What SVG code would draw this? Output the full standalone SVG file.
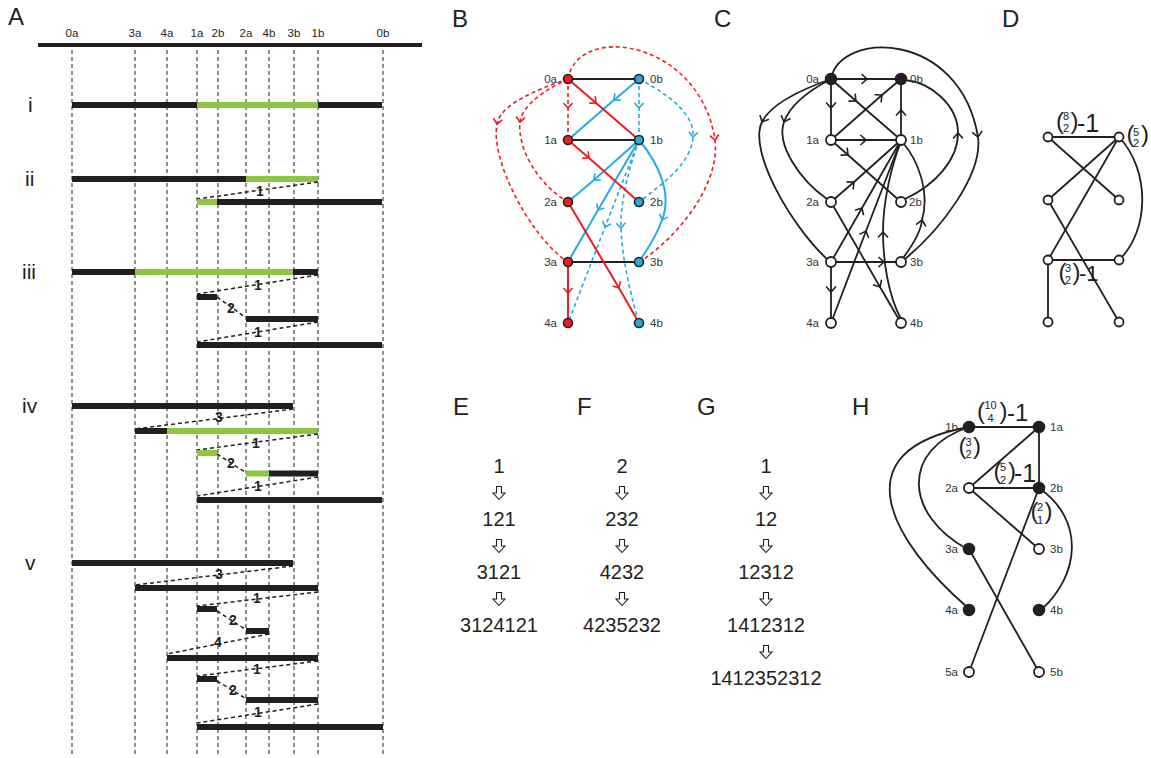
<svg xmlns="http://www.w3.org/2000/svg" width="1151" height="758" viewBox="0 0 1151 758">
<style>
text{font-family:"Liberation Sans",Arial,sans-serif;fill:#231f20}
.pl{font-size:24px}
.ax{font-size:11.5px;text-anchor:middle}
.rn{font-size:21px}
.vd{stroke:#231f20;stroke-width:1;stroke-dasharray:4 3;fill:none}
.bk{stroke:#231f20;stroke-width:6;fill:none}
.gr{stroke:#8dc63f;stroke-width:6;fill:none}
.cn{stroke:#231f20;stroke-width:1.5;stroke-dasharray:4 3;fill:none}
.num{font-size:14px;font-weight:bold;text-anchor:middle}
.nl{font-size:11.5px;fill:#333}
.nle{font-size:11.5px;fill:#333;text-anchor:end}
.bkl{stroke:#231f20;stroke-width:2;fill:none}
.rs{stroke:#ed1c24;stroke-width:2;fill:none;marker-mid:url(#mr)}
.rd{stroke:#ed1c24;stroke-width:1.6;stroke-dasharray:4 3;fill:none;marker-mid:url(#mr)}
.bs{stroke:#27aae1;stroke-width:2;fill:none;marker-mid:url(#mb)}
.bd{stroke:#27aae1;stroke-width:1.6;stroke-dasharray:4 3;fill:none;marker-mid:url(#mb)}
.ce{stroke:#231f20;stroke-width:1.8;fill:none;marker-mid:url(#mk)}
.pe{stroke:#231f20;stroke-width:1.8;fill:none}
.nr{fill:#ed1c24;stroke:#231f20;stroke-width:1.6}
.nb{fill:#27aae1;stroke:#231f20;stroke-width:1.6}
.nw{fill:#fff;stroke:#231f20;stroke-width:1.8}
.nf{fill:#231f20;stroke:#231f20;stroke-width:1.5}
.seq{font-size:20px;text-anchor:middle}
.par{font-size:24px}
.bn{font-size:11px;text-anchor:middle}
.m1{font-size:25px}
</style>
<defs>
<marker id="mr" viewBox="-7 -7 14 14" markerWidth="14" markerHeight="14" markerUnits="userSpaceOnUse" orient="auto"><path d="M-5,-4.5 L0,0 L-5,4.5" fill="none" stroke="#ed1c24" stroke-width="1.6"/></marker>
<marker id="mb" viewBox="-7 -7 14 14" markerWidth="14" markerHeight="14" markerUnits="userSpaceOnUse" orient="auto"><path d="M-5,-4.5 L0,0 L-5,4.5" fill="none" stroke="#27aae1" stroke-width="1.6"/></marker>
<marker id="mk" viewBox="-7 -7 14 14" markerWidth="14" markerHeight="14" markerUnits="userSpaceOnUse" orient="auto"><path d="M-5.5,-5 L0,0 L-5.5,5" fill="none" stroke="#231f20" stroke-width="1.6"/></marker>
<path id="da" d="M-2.5,-6.5 H2.5 V0 H6 L0,6.5 L-6,0 H-2.5 Z" fill="#fff" stroke="#231f20" stroke-width="1.1"/>
</defs>
<rect width="1151" height="758" fill="#fff"/>

<!-- Panel A -->
<g id="panelA">
<text class="pl" x="8" y="25">A</text>
<line x1="38" y1="45" x2="422" y2="45" stroke="#231f20" stroke-width="4"/>
<g>
<text class="ax" x="72" y="37">0a</text>
<text class="ax" x="135" y="37">3a</text>
<text class="ax" x="167" y="37">4a</text>
<text class="ax" x="197" y="37">1a</text>
<text class="ax" x="218" y="37">2b</text>
<text class="ax" x="246" y="37">2a</text>
<text class="ax" x="269" y="37">4b</text>
<text class="ax" x="294" y="37">3b</text>
<text class="ax" x="318" y="37">1b</text>
<text class="ax" x="383" y="37">0b</text>
</g>
<g class="vd">
<line x1="72" y1="50" x2="72" y2="755"/>
<line x1="135" y1="50" x2="135" y2="755"/>
<line x1="167" y1="50" x2="167" y2="755"/>
<line x1="197" y1="50" x2="197" y2="755"/>
<line x1="218" y1="50" x2="218" y2="755"/>
<line x1="246" y1="50" x2="246" y2="755"/>
<line x1="269" y1="50" x2="269" y2="755"/>
<line x1="294" y1="50" x2="294" y2="755"/>
<line x1="318" y1="50" x2="318" y2="755"/>
<line x1="383" y1="50" x2="383" y2="755"/>
</g>
<text class="rn" x="28" y="112">i</text>
<text class="rn" x="25" y="186">ii</text>
<text class="rn" x="22" y="279">iii</text>
<text class="rn" x="22" y="413">iv</text>
<text class="rn" x="25" y="570">v</text>
<!-- row i -->
<line class="bk" x1="72" y1="105" x2="197" y2="105"/>
<line class="gr" x1="197" y1="105" x2="318" y2="105"/>
<line class="bk" x1="318" y1="105" x2="382" y2="105"/>
<!-- row ii -->
<line class="bk" x1="72" y1="179" x2="246" y2="179"/>
<line class="gr" x1="246" y1="179" x2="318" y2="179"/>
<line class="cn" x1="318" y1="182" x2="197" y2="199"/>
<text class="num" x="260" y="196">1</text>
<line class="gr" x1="197" y1="202" x2="217" y2="202"/>
<line class="bk" x1="217" y1="202" x2="382" y2="202"/>
<!-- row iii -->
<line class="bk" x1="72" y1="272" x2="135" y2="272"/>
<line class="gr" x1="135" y1="272" x2="293" y2="272"/>
<line class="bk" x1="293" y1="272" x2="318" y2="272"/>
<line class="cn" x1="318" y1="275" x2="197" y2="294"/>
<text class="num" x="258" y="290">1</text>
<line class="bk" x1="197" y1="297" x2="217" y2="297"/>
<line class="cn" x1="217" y1="297" x2="245" y2="317"/>
<text class="num" x="231" y="313">2</text>
<line class="bk" x1="246" y1="319" x2="318" y2="319"/>
<line class="cn" x1="318" y1="322" x2="197" y2="342"/>
<text class="num" x="258" y="337">1</text>
<line class="bk" x1="197" y1="345" x2="382" y2="345"/>
<!-- row iv -->
<line class="bk" x1="72" y1="406" x2="293" y2="406"/>
<line class="cn" x1="293" y1="409" x2="135" y2="429"/>
<text class="num" x="219" y="422">3</text>
<line class="bk" x1="135" y1="431" x2="167" y2="431"/>
<line class="gr" x1="167" y1="431" x2="318" y2="431"/>
<line class="cn" x1="318" y1="434" x2="197" y2="450"/>
<text class="num" x="256" y="448">1</text>
<line class="gr" x1="197" y1="453" x2="217" y2="453"/>
<line class="cn" x1="217" y1="454" x2="245" y2="472"/>
<text class="num" x="231" y="468">2</text>
<line class="gr" x1="246" y1="473.5" x2="269" y2="473.5"/>
<line class="bk" x1="269" y1="473.5" x2="318" y2="473.5"/>
<line class="cn" x1="318" y1="477" x2="197" y2="496"/>
<text class="num" x="258" y="491">1</text>
<line class="bk" x1="197" y1="500" x2="382" y2="500"/>
<!-- row v -->
<line class="bk" x1="72" y1="563" x2="293" y2="563"/>
<line class="cn" x1="293" y1="566" x2="135" y2="585"/>
<text class="num" x="219" y="579">3</text>
<line class="bk" x1="135" y1="588" x2="318" y2="588"/>
<line class="cn" x1="318" y1="592" x2="197" y2="606"/>
<text class="num" x="257" y="603">1</text>
<line class="bk" x1="197" y1="609" x2="217" y2="609"/>
<line class="cn" x1="217" y1="611" x2="245" y2="629"/>
<text class="num" x="233" y="625">2</text>
<line class="bk" x1="246" y1="631" x2="269" y2="631"/>
<line class="cn" x1="269" y1="634" x2="167" y2="654"/>
<text class="num" x="218" y="647">4</text>
<line class="bk" x1="167" y1="658" x2="318" y2="658"/>
<line class="cn" x1="318" y1="661" x2="197" y2="676"/>
<text class="num" x="257" y="674">1</text>
<line class="bk" x1="197" y1="679" x2="217" y2="679"/>
<line class="cn" x1="217" y1="681" x2="245" y2="698"/>
<text class="num" x="233" y="695">2</text>
<line class="bk" x1="246" y1="700" x2="318" y2="700"/>
<line class="cn" x1="318" y1="704" x2="197" y2="723"/>
<text class="num" x="258" y="717">1</text>
<line class="bk" x1="197" y1="727" x2="383" y2="727"/>
</g>

<!-- Panel B -->
<g id="panelB">
<text class="pl" x="452" y="27">B</text>
<g id="B-connectors">
<path class="bkl" d="M568,79 H639 M568,140 H639 M568,262 H639"/>
<path class="rd" d="M568,79 C578,22 700,40 715,140 C720,180 685,230 644,259"/>
<path class="rd" d="M568,79 C535,90 500,105 497,124 C490,160 530,235 565,260"/>
<path class="rd" d="M568,79 C545,90 522,105 520,122 C517,150 540,185 565,200"/>
<path class="rd" d="M568,79 L568,108 L568,140"/>
<path class="bd" d="M639,79 L639,108 L639,140"/>
<path class="bd" d="M639,79 C670,95 695,115 693,137 C691,165 660,185 643,199"/>
<path class="bd" d="M639,140 L605,227 L568,323"/>
<path class="bd" d="M639,140 C625,180 620,210 621,228 C622,260 632,300 639,323"/>
<path class="bs" d="M639,79 L614,100 L568,140"/>
<path class="bs" d="M639,140 L594,180 L568,202"/>
<path class="bs" d="M639,140 L598,210 L568,262"/>
<path class="bs" d="M639,140 C660,165 672,195 662,220 C655,240 645,252 639,262"/>
<path class="rs" d="M568,79 L596,103 L639,140"/>
<path class="rs" d="M568,140 L589,158 L639,202"/>
<path class="rs" d="M568,202 L619,288 L639,323"/>
<path class="rs" d="M568,262 L568,293 L568,323"/>
</g>
<g id="B-0a"><circle class="nr" cx="568" cy="79" r="4.5"/><text class="nle" x="557" y="83">0a</text></g>
<g id="B-0b"><circle class="nb" cx="639" cy="79" r="4.5"/><text class="nl" x="650" y="83">0b</text></g>
<g id="B-1a"><circle class="nr" cx="568" cy="140" r="4.5"/><text class="nle" x="557" y="144">1a</text></g>
<g id="B-1b"><circle class="nb" cx="639" cy="140" r="4.5"/><text class="nl" x="650" y="144">1b</text></g>
<g id="B-2a"><circle class="nr" cx="568" cy="202" r="4.5"/><text class="nle" x="557" y="206">2a</text></g>
<g id="B-2b"><circle class="nb" cx="639" cy="202" r="4.5"/><text class="nl" x="650" y="206">2b</text></g>
<g id="B-3a"><circle class="nr" cx="568" cy="262" r="4.5"/><text class="nle" x="557" y="266">3a</text></g>
<g id="B-3b"><circle class="nb" cx="639" cy="262" r="4.5"/><text class="nl" x="650" y="266">3b</text></g>
<g id="B-4a"><circle class="nr" cx="568" cy="323" r="4.5"/><text class="nle" x="557" y="327">4a</text></g>
<g id="B-4b"><circle class="nb" cx="639" cy="323" r="4.5"/><text class="nl" x="650" y="327">4b</text></g>
</g>

<!-- Panel C -->
<g id="panelC">
<text class="pl" x="714" y="27">C</text>
<g id="C-connectors">
<path class="ce" d="M831,79 L867,79 L901,79"/>
<path class="ce" d="M831,79 L831,108 L831,140"/>
<path class="ce" d="M831,140 L866,140 L901,140"/>
<path class="ce" d="M901,140 L901,110 L901,79"/>
<path class="ce" d="M831,79 L856,101 L901,140"/>
<path class="ce" d="M831,140 L882,95 L901,79"/>
<path class="ce" d="M831,140 L848,155 L901,202"/>
<path class="ce" d="M831,202 L854,182 L901,140"/>
<path class="ce" d="M831,262 L862,208 L901,140"/>
<path class="ce" d="M831,323 L866,231 L901,140"/>
<path class="ce" d="M901,319 C888,295 883,260 883,232 C883,200 892,165 900,144"/>
<path class="ce" d="M903,258 C912,246 921,232 922,220 C930,192 918,160 903,143"/>
<path class="ce" d="M831,262 L884,262 L901,262"/>
<path class="ce" d="M831,262 L831,292 L831,323"/>
<path class="ce" d="M831,202 L880,287 L901,323"/>
<path class="ce" d="M831,79 C800,90 770,105 762,122 C748,150 790,225 828,260"/>
<path class="ce" d="M831,79 C810,90 790,105 784,122 C776,145 800,180 827,199"/>
<path class="ce" d="M831,79 C840,30 960,30 978,137 C983,175 940,230 905,259"/>
<path class="ce" d="M905,199 C935,185 958,160 958,133 C958,105 930,82 905,80"/>
</g>
<g id="C-0a"><circle class="nf" cx="831" cy="79" r="5.5"/><text class="nle" x="819" y="83">0a</text></g>
<g id="C-0b"><circle class="nf" cx="901" cy="79" r="5.5"/><text class="nl" x="910" y="83">0b</text></g>
<g id="C-1a"><circle class="nw" cx="831" cy="140" r="5"/><text class="nle" x="819" y="144">1a</text></g>
<g id="C-1b"><circle class="nw" cx="901" cy="140" r="5"/><text class="nl" x="910" y="144">1b</text></g>
<g id="C-2a"><circle class="nw" cx="831" cy="202" r="5"/><text class="nle" x="819" y="206">2a</text></g>
<g id="C-2b"><circle class="nw" cx="901" cy="202" r="5"/><text class="nl" x="909" y="206">2b</text></g>
<g id="C-3a"><circle class="nw" cx="831" cy="262" r="5"/><text class="nle" x="819" y="266">3a</text></g>
<g id="C-3b"><circle class="nw" cx="901" cy="262" r="5"/><text class="nl" x="910" y="266">3b</text></g>
<g id="C-4a"><circle class="nw" cx="831" cy="323" r="5"/><text class="nle" x="819" y="327">4a</text></g>
<g id="C-4b"><circle class="nw" cx="901" cy="323" r="5"/><text class="nl" x="910" y="327">4b</text></g>
</g>

<!-- Panel D -->
<g id="panelD">
<text class="pl" x="1002" y="27">D</text>
<g id="D-connectors">
<path class="pe" d="M1048,137 L1119,137"/>
<path class="pe" d="M1048,137 L1119,200"/>
<path class="pe" d="M1119,137 L1048,200"/>
<path class="pe" d="M1119,137 L1048,260"/>
<path class="pe" d="M1119,137 C1150,170 1150,230 1119,260"/>
<path class="pe" d="M1048,200 L1119,322"/>
<path class="pe" d="M1048,260 L1119,260"/>
<path class="pe" d="M1048,260 L1048,322"/>
</g>
<g id="D-n1"><circle class="nw" cx="1048" cy="137" r="4.5"/></g>
<g id="D-n2"><circle class="nw" cx="1119" cy="137" r="4.5"/></g>
<g id="D-n3"><circle class="nw" cx="1048" cy="200" r="4.5"/></g>
<g id="D-n4"><circle class="nw" cx="1119" cy="200" r="4.5"/></g>
<g id="D-n5"><circle class="nw" cx="1048" cy="260" r="4.5"/></g>
<g id="D-n6"><circle class="nw" cx="1119" cy="260" r="4.5"/></g>
<g id="D-n7"><circle class="nw" cx="1048" cy="322" r="4.5"/></g>
<g id="D-n8"><circle class="nw" cx="1119" cy="322" r="4.5"/></g>
<g id="D-lab1">
<text class="par" x="1056" y="129">(</text>
<text class="bn" x="1066" y="120">8</text>
<text class="bn" x="1066" y="132">2</text>
<text class="par" x="1070.5" y="129">)</text>
<text class="m1" x="1077" y="132">-1</text>
</g>
<g id="D-lab2">
<text class="par" x="1126.5" y="142">(</text>
<text class="bn" x="1136" y="136">5</text>
<text class="bn" x="1136" y="147">2</text>
<text class="par" x="1141" y="142">)</text>
</g>
<g id="D-lab3">
<text class="par" x="1058.5" y="280">(</text>
<text class="bn" x="1068" y="272">3</text>
<text class="bn" x="1068" y="284">2</text>
<text class="par" x="1072.5" y="280">)</text>
<text class="m1" x="1079" y="281" style="font-size:22px">-1</text>
</g>
</g>

<!-- Panel E -->
<g id="panelE">
<text class="pl" x="453" y="415">E</text>
<text class="seq" x="499" y="473">1</text>
<use href="#da" x="499" y="493"/>
<text class="seq" x="499" y="526">121</text>
<use href="#da" x="499" y="546"/>
<text class="seq" x="499" y="579">3121</text>
<use href="#da" x="499" y="599"/>
<text class="seq" x="499" y="632">3124121</text>
</g>

<!-- Panel F -->
<g id="panelF">
<text class="pl" x="577" y="415">F</text>
<text class="seq" x="622" y="473">2</text>
<use href="#da" x="622" y="493"/>
<text class="seq" x="622" y="526">232</text>
<use href="#da" x="622" y="546"/>
<text class="seq" x="622" y="579">4232</text>
<use href="#da" x="622" y="599"/>
<text class="seq" x="622" y="632">4235232</text>
</g>

<!-- Panel G -->
<g id="panelG">
<text class="pl" x="697" y="415">G</text>
<text class="seq" x="766" y="473">1</text>
<use href="#da" x="766" y="493"/>
<text class="seq" x="766" y="526">12</text>
<use href="#da" x="766" y="546"/>
<text class="seq" x="766" y="579">12312</text>
<use href="#da" x="766" y="599"/>
<text class="seq" x="766" y="632">1412312</text>
<use href="#da" x="766" y="652"/>
<text class="seq" x="766" y="685">1412352312</text>
</g>

<!-- Panel H -->
<g id="panelH">
<text class="pl" x="852" y="415">H</text>
<g id="H-connectors">
<path class="pe" d="M969,427 H1039"/>
<path class="pe" d="M1039,427 V488"/>
<path class="pe" d="M1039,427 L969,488"/>
<path class="pe" d="M969,488 H1039"/>
<path class="pe" d="M969,488 L1039,549"/>
<path class="pe" d="M1039,488 L969,672"/>
<path class="pe" d="M969,549 L1039,672"/>
<path class="pe" d="M1039,488 C1085,520 1080,575 1041,610"/>
<path class="pe" d="M969,427 C840,450 890,540 967,607"/>
<path class="pe" d="M969,427 C900,450 905,515 967,549"/>
</g>
<g id="H-1b"><circle class="nf" cx="969" cy="427" r="5.5"/><text class="nle" x="958" y="431">1b</text></g>
<g id="H-1a"><circle class="nf" cx="1039" cy="427" r="5.5"/><text class="nl" x="1050" y="431">1a</text></g>
<g id="H-2a"><circle class="nw" cx="969" cy="488" r="5"/><text class="nle" x="958" y="492">2a</text></g>
<g id="H-2b"><circle class="nf" cx="1039" cy="488" r="5.5"/><text class="nl" x="1050" y="492">2b</text></g>
<g id="H-3a"><circle class="nf" cx="969" cy="549" r="5.5"/><text class="nle" x="958" y="553">3a</text></g>
<g id="H-3b"><circle class="nw" cx="1039" cy="549" r="5"/><text class="nl" x="1050" y="553">3b</text></g>
<g id="H-4a"><circle class="nf" cx="969" cy="610" r="5.5"/><text class="nle" x="958" y="614">4a</text></g>
<g id="H-4b"><circle class="nf" cx="1039" cy="610" r="5.5"/><text class="nl" x="1050" y="614">4b</text></g>
<g id="H-5a"><circle class="nw" cx="969" cy="672" r="5"/><text class="nle" x="958" y="676">5a</text></g>
<g id="H-5b"><circle class="nw" cx="1039" cy="672" r="5"/><text class="nl" x="1050" y="676">5b</text></g>
<g id="H-lab1">
<text class="par" x="977" y="419">(</text>
<text class="bn" x="990.5" y="409">10</text>
<text class="bn" x="990.5" y="422">4</text>
<text class="par" x="999.5" y="419">)</text>
<text class="m1" x="1007" y="421" style="font-size:24px">-1</text>
</g>
<g id="H-lab2">
<text class="par" x="958.5" y="454">(</text>
<text class="bn" x="968.5" y="446">3</text>
<text class="bn" x="968.5" y="458">2</text>
<text class="par" x="973" y="454">)</text>
</g>
<g id="H-lab3">
<text class="par" x="993.5" y="479">(</text>
<text class="bn" x="1003" y="471">5</text>
<text class="bn" x="1003" y="484">2</text>
<text class="par" x="1008" y="479">)</text>
<text class="m1" x="1014" y="482">-1</text>
</g>
<g id="H-lab4">
<text class="par" x="1030.5" y="519">(</text>
<text class="bn" x="1040" y="511">2</text>
<text class="bn" x="1040" y="524">1</text>
<text class="par" x="1044.5" y="519">)</text>
</g>
</g>
</svg>
